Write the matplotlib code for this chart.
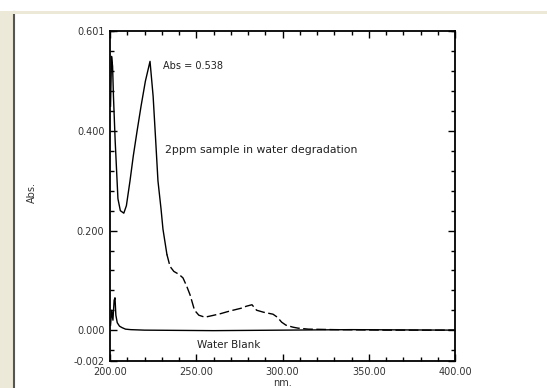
import numpy as np
import matplotlib
matplotlib.use("Agg")
import matplotlib.pyplot as plt
from matplotlib.ticker import MultipleLocator
from matplotlib.lines import Line2D
from matplotlib.patches import Rectangle

# --- Data (wavelength in nm, absorbance) ---
sample_nm = [200.3, 200.9, 201.5, 202.0, 203.0, 204.6, 206.0, 208.0, 209.5, 211.6,
             213.5, 215.7, 218.0, 220.5, 223.2, 225.0, 226.5, 227.8, 229.6, 230.7,
             233.0, 234.8, 237.0, 240.0, 242.3, 244.5, 246.4, 249.0, 251.5, 255.0,
             259.0, 264.0, 268.0, 271.3, 276.0, 279.0, 282.3, 285.0, 289.0, 294.5,
             297.0, 299.5, 302.0, 306.0, 309.0, 315.0, 330.0, 360.0, 400.0]
sample_abs = [0.450, 0.550, 0.530, 0.470, 0.380, 0.264, 0.240, 0.235, 0.250, 0.300,
              0.350, 0.400, 0.450, 0.500, 0.540, 0.470, 0.380, 0.300, 0.243, 0.203,
              0.152, 0.128, 0.118, 0.112, 0.105, 0.088, 0.071, 0.040, 0.030, 0.026,
              0.029, 0.033, 0.037, 0.040, 0.044, 0.048, 0.051, 0.040, 0.036, 0.032,
              0.026, 0.016, 0.010, 0.006, 0.004, 0.002, 0.001, 0.000, 0.000]

blank_nm = [200.3, 201.0, 201.7, 202.4, 202.9, 203.4, 204.2, 205.5, 207.0, 209.0,
            212.0, 220.0, 260.0, 300.0, 340.0, 400.0]
blank_abs = [0.010, 0.040, 0.020, 0.060, 0.065, 0.030, 0.015, 0.008, 0.005, 0.002,
             0.001, 0.000, -0.001, 0.000, 0.001, 0.000]

y_ticks = [-0.062, 0.0, 0.2, 0.4, 0.601]
y_labels = ["-0.002", "0.000", "0.200", "0.400", "0.601"]
x_ticks = [200, 250, 300, 350, 400]
x_labels = ["200.00", "250.00", "300.00", "350.00", "400.00"]

# --- Figure ---
fig = plt.figure(figsize=(5.47, 3.88), dpi=100)
fig.patch.set_facecolor("white")

# window frame bits (beige strip, dark edge, top rule)
fig.add_artist(Rectangle((0, 0), 13 / 547, 1 - 12 / 388, transform=fig.transFigure,
                         facecolor="#ece9d8", edgecolor="none", zorder=-1))
fig.add_artist(Line2D([14 / 547, 14 / 547], [0, 1 - 12 / 388], transform=fig.transFigure,
                      color="#555555", lw=1.5, zorder=-1))
fig.add_artist(Rectangle((0, 1 - 14 / 388), 1, 3 / 388, transform=fig.transFigure,
                         facecolor="#ece9d8", edgecolor="none", zorder=-1))

ax = fig.add_axes([110 / 547, 27 / 388, 345 / 547, 330 / 388])

sample_nm = np.array(sample_nm)
sample_abs = np.array(sample_abs)
solid = sample_nm <= 233
dashed = sample_nm >= 233
ax.plot(sample_nm[solid], sample_abs[solid], color="black", lw=1.0)
ax.plot(sample_nm[dashed], sample_abs[dashed], color="black", lw=1.0, dashes=(7, 2.5))
ax.plot(blank_nm, blank_abs, color="black", lw=1.0)

ax.set_xlim(200, 400)
ax.set_ylim(-0.062, 0.601)
ax.set_xticks(x_ticks)
ax.set_xticklabels(x_labels)
ax.set_yticks(y_ticks)
ax.set_yticklabels(y_labels)
ax.xaxis.set_minor_locator(MultipleLocator(10))
ax.yaxis.set_minor_locator(MultipleLocator(0.04))
ax.tick_params(which="both", direction="in", top=True, right=True,
               labelsize=7, labelcolor="#333333", pad=4)
ax.tick_params(which="major", length=5, width=1)
ax.tick_params(which="minor", length=3, width=1)
for s in ax.spines.values():
    s.set_linewidth(1.3)

ax.set_xlabel("nm.", fontsize=7, color="#333333", labelpad=1)
ax.set_ylabel("Abs.", fontsize=7, color="#333333")
ax.yaxis.set_label_coords(-73 / 345, 0.51)

ax.text(0.154, 0.894, "Abs = 0.538", transform=ax.transAxes, fontsize=7, color="#222222",
        va="center")
ax.text(0.16, 0.639, "2ppm sample in water degradation", transform=ax.transAxes,
        fontsize=7.8, color="#222222", va="center")
ax.text(0.252, 0.048, "Water Blank", transform=ax.transAxes, fontsize=7.5, color="#222222",
        va="center")

fig.savefig("out.png", dpi=100)
